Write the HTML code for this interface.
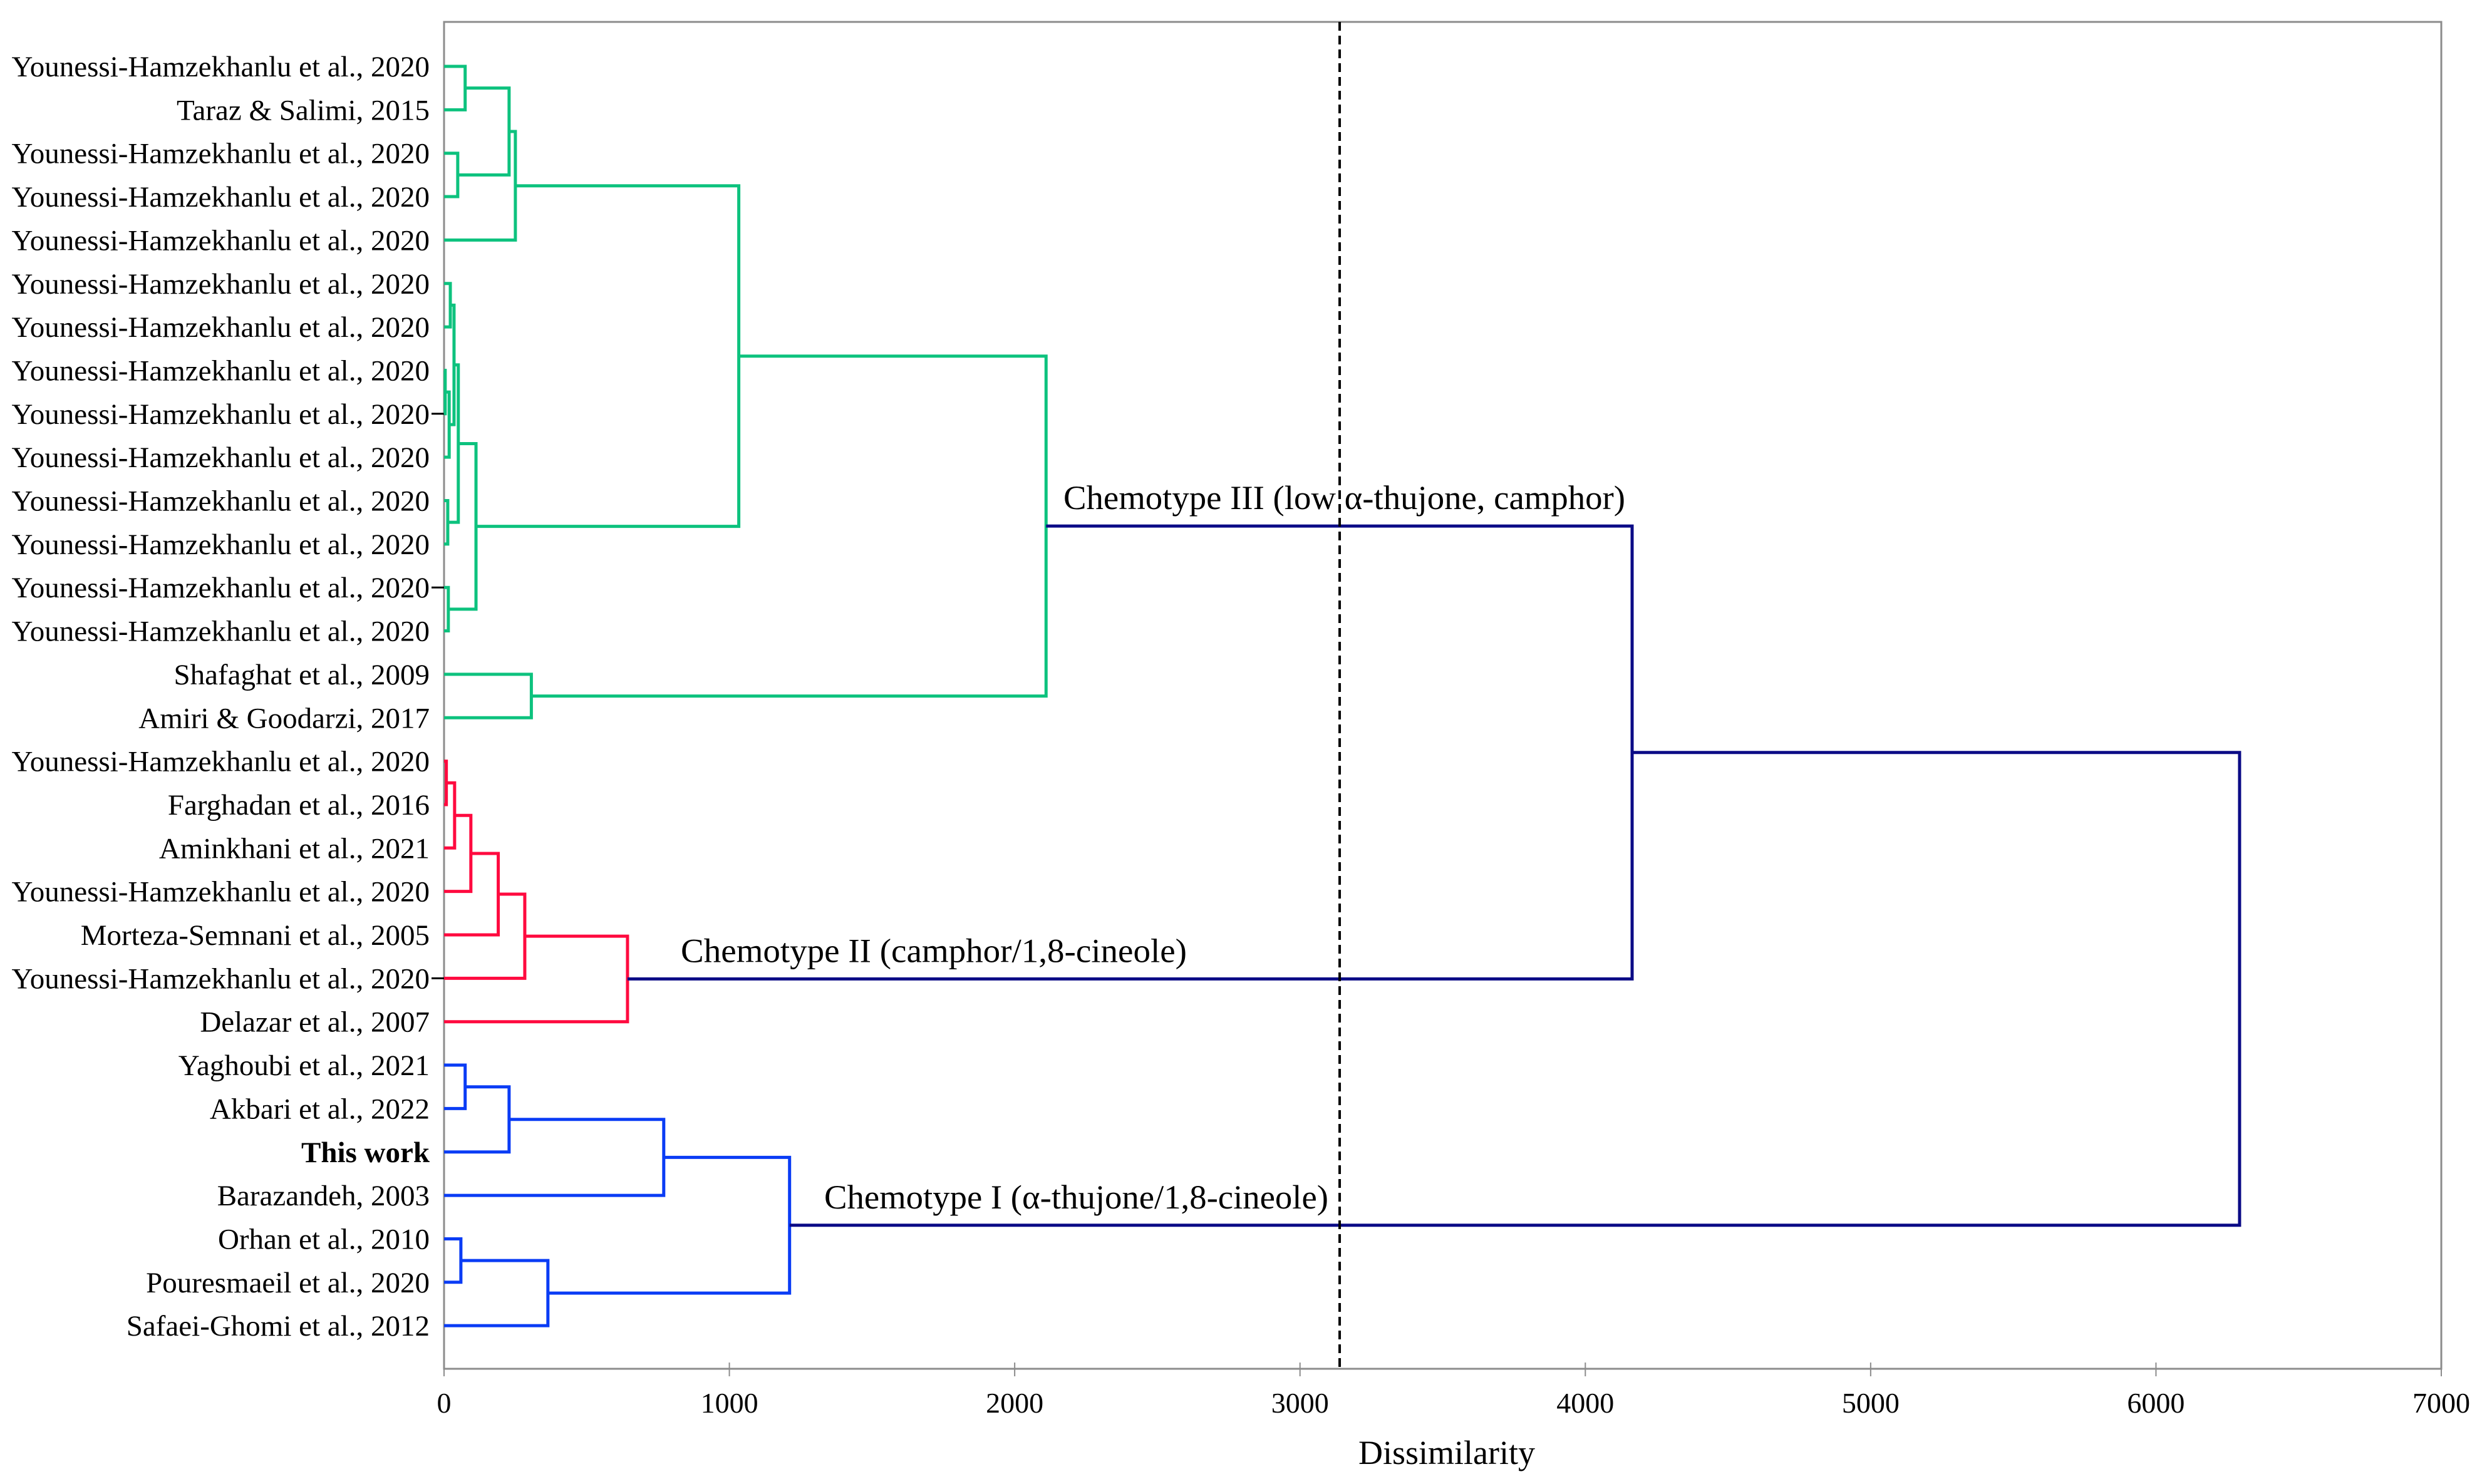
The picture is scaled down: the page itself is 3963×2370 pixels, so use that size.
<!DOCTYPE html>
<html><head><meta charset="utf-8"><style>
html,body{margin:0;padding:0;background:#fff;}
svg{display:block;font-family:"Liberation Serif",serif;}
</style></head><body>
<svg id="chart" width="3963" height="2370" viewBox="0 0 3963 2370" xmlns="http://www.w3.org/2000/svg">
<rect x="0" y="0" width="3963" height="2370" fill="#fff"/>
<g id="plot"></g>
</svg>
<script>
const leafLabels = ["Younessi-Hamzekhanlu et al., 2020","Taraz & Salimi, 2015","Younessi-Hamzekhanlu et al., 2020","Younessi-Hamzekhanlu et al., 2020","Younessi-Hamzekhanlu et al., 2020","Younessi-Hamzekhanlu et al., 2020","Younessi-Hamzekhanlu et al., 2020","Younessi-Hamzekhanlu et al., 2020","Younessi-Hamzekhanlu et al., 2020","Younessi-Hamzekhanlu et al., 2020","Younessi-Hamzekhanlu et al., 2020","Younessi-Hamzekhanlu et al., 2020","Younessi-Hamzekhanlu et al., 2020","Younessi-Hamzekhanlu et al., 2020","Shafaghat et al., 2009","Amiri & Goodarzi, 2017","Younessi-Hamzekhanlu et al., 2020","Farghadan et al., 2016","Aminkhani et al., 2021","Younessi-Hamzekhanlu et al., 2020","Morteza-Semnani et al., 2005","Younessi-Hamzekhanlu et al., 2020","Delazar et al., 2007","Yaghoubi et al., 2021","Akbari et al., 2022","This work","Barazandeh, 2003","Orhan et al., 2010","Pouresmaeil et al., 2020","Safaei-Ghomi et al., 2012"];
const mergeLeft  = [0,2,30,32,5,7,35,34,10,37,12,39,33,14,42, 16,45,46,47,48,49, 23,51,52,27,54,53, 44,57];
const mergeRight = [1,3,31,4,6,8,9,36,11,38,13,40,41,15,43, 17,18,19,20,21,22, 24,25,26,28,29,55, 50,56];
const mergeHeight= [74,48,228,250,22,4,18,35,13,50,15,112,1033,306,2110, 8,37,94,190,283,643, 74,228,770,59,364,1211, 4164,6293];
const mergeGroup = ["g","g","g","g","g","g","g","g","g","g","g","g","g","g","g","r","r","r","r","r","r","b","b","b","b","b","b","n","n"];
const xTicks = [0,1000,2000,3000,4000,5000,6000,7000];
const cutHeight = 3139;
const chemotypes = [["Chemotype III (low α-thujone, camphor)",44,1698,897],["Chemotype II (camphor/1,8-cineole)",50,1087,808],["Chemotype I (α-thujone/1,8-cineole)",56,1316,805]];
const tickMarkRows = [8,12,21];

const NS="http://www.w3.org/2000/svg";
const g=document.getElementById('plot');
const L=709,R=3898,T=35,B=2186;
const xs=v=>L+(v-0)/(7000-0)*(R-L);
const rowY=i=>106+i*69.35;
const colors={g:"#0dc27e",r:"#ff0a3f",b:"#0a3cf5",n:"#0b0b86"};
function el(tag,attrs){const e=document.createElementNS(NS,tag);for(const k in attrs)e.setAttribute(k,attrs[k]);g.appendChild(e);return e;}
const fr=el('rect',{x:L,y:T,width:R-L,height:B-T,fill:"none",stroke:"#8c8c8c","stroke-width":3});


xTicks.forEach(t=>{
 const x=xs(t);
 const tk=el('line',{x1:x,y1:B-10,x2:x,y2:B+12,stroke:"#8c8c8c","stroke-width":2});
 
 
 const tx=el('text',{x:x,y:2256,"text-anchor":"middle","font-size":46,fill:"#000"});
 tx.textContent=t;
 
 
});
const xt=el('text',{x:2310,y:2338,"text-anchor":"middle","font-size":54,fill:"#000"});
xt.textContent="Dissimilarity";


leafLabels.forEach((s,i)=>{
 const t=el('text',{x:686,y:rowY(i)+16,"text-anchor":"end","font-size":47,fill:"#000"});
 if(s==="This work")t.setAttribute('font-weight','bold');
 t.textContent=s;
 
 
});
tickMarkRows.forEach(i=>{
 const m=el('line',{x1:689,y1:rowY(i),x2:709,y2:rowY(i),stroke:"#000","stroke-width":3});
 
 
});
const n=leafLabels.length;
const nodeX={},nodeY={};
for(let i=0;i<n;i++){nodeX[i]=0;nodeY[i]=rowY(i);}
mergeHeight.forEach((h,k)=>{
 const id=n+k,a=mergeLeft[k],b=mergeRight[k];
 nodeX[id]=h;nodeY[id]=(nodeY[a]+nodeY[b])/2;
 const c=colors[mergeGroup[k]];
 const p=el('path',{d:`M${xs(nodeX[a])},${nodeY[a]}H${xs(h)}V${nodeY[b]}H${xs(nodeX[b])}`,fill:"none",stroke:c,"stroke-width":5,"stroke-linejoin":"miter"});
 
 
});
const cl=el('line',{x1:xs(cutHeight),y1:T,x2:xs(cutHeight),y2:B,stroke:"#000","stroke-width":4,"stroke-dasharray":"14,8"});


chemotypes.forEach(c=>{
 const t=el('text',{x:c[2],y:nodeY[c[1]]-27,"font-size":54,fill:"#000",textLength:c[3],lengthAdjust:"spacingAndGlyphs"});
 t.textContent=c[0];
 
 
});
</script>
</body></html>
